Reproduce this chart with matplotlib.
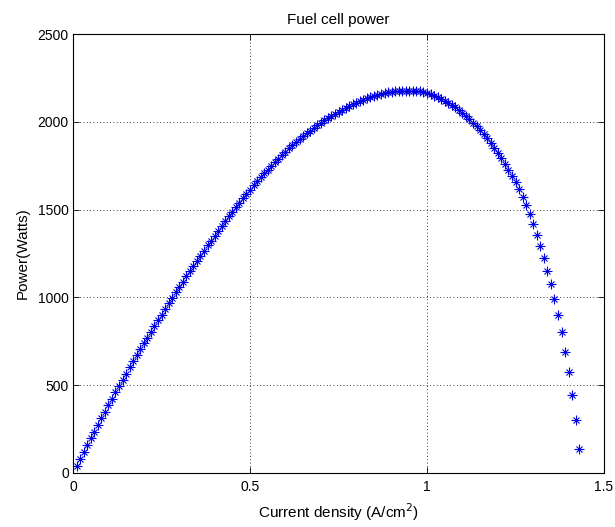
import matplotlib
matplotlib.use("Agg")
import matplotlib.pyplot as plt

current_density = [round(0.01 * k, 2) for k in range(1, 144)]
power = [
    42, 82, 121, 160, 198, 236, 274, 311, 348, 385,
    422, 459, 495, 531, 566, 601, 636, 670, 704, 738,
    771, 804, 837, 870, 902, 934, 966, 997, 1028, 1059,
    1090, 1120, 1150, 1180, 1209, 1238, 1267, 1296, 1324, 1352,
    1380, 1407, 1434, 1461, 1487, 1513, 1539, 1564, 1589, 1614,
    1638, 1661, 1684, 1706, 1728, 1749, 1770, 1790, 1810, 1829,
    1848, 1866, 1884, 1901, 1918, 1934, 1950, 1965, 1980, 1994,
    2008, 2021, 2034, 2046, 2058, 2069, 2080, 2090, 2100, 2109,
    2118, 2126, 2134, 2141, 2147, 2153, 2158, 2163, 2167, 2170,
    2173, 2175, 2177, 2178, 2178, 2178, 2176, 2173, 2168, 2162,
    2156, 2149, 2141, 2132, 2121, 2109, 2096, 2082, 2067, 2051,
    2034, 2016, 1996, 1975, 1953, 1930, 1905, 1879, 1852, 1823,
    1793, 1761, 1728, 1692, 1655, 1617, 1574, 1526, 1474, 1418,
    1357, 1292, 1224, 1152, 1076, 993, 902, 801, 691, 573,
    443, 300, 136,
]
x_ticks = [0, 0.5, 1, 1.5]
x_tick_labels = ["0", "0.5", "1", "1.5"]
y_ticks = [0, 500, 1000, 1500, 2000, 2500]
y_tick_labels = ["0", "500", "1000", "1500", "2000", "2500"]

plt.rcParams['font.family'] = ['Liberation Sans', 'DejaVu Sans']

fig = plt.figure(figsize=(6.15, 5.27), dpi=100)
ax = fig.add_axes([73 / 615, 54 / 527, 531 / 615, 439 / 527])

ax.plot(current_density, power, linestyle='none', marker='+', markersize=7.5,
        markeredgewidth=0.8, color='#0000e6')
ax.plot(current_density, power, linestyle='none', marker='x', markersize=5,
        markeredgewidth=0.8, color='#0000e6')

ax.set_xlim(0, 1.5)
ax.set_ylim(0, 2500)
ax.set_xticks(x_ticks)
ax.set_xticklabels(x_tick_labels)
ax.set_yticks(y_ticks)
ax.set_yticklabels(y_tick_labels)
ax.grid(True, color='black', linestyle=(0, (1, 3)), linewidth=0.6)
ax.tick_params(direction='in', top=True, right=True, length=4, width=0.6,
               labelsize=10, pad=3)
ax.tick_params(axis='x', pad=5)
for s in ax.spines.values():
    s.set_linewidth(0.8)

ax.set_title("Fuel cell power", fontsize=11, pad=7)
ax.set_xlabel("Current density (A/cm$^2$)", fontsize=11, labelpad=5)
ax.set_ylabel("Power(Watts)", fontsize=11, labelpad=6)

fig.savefig("out.png", dpi=100, facecolor='white')
